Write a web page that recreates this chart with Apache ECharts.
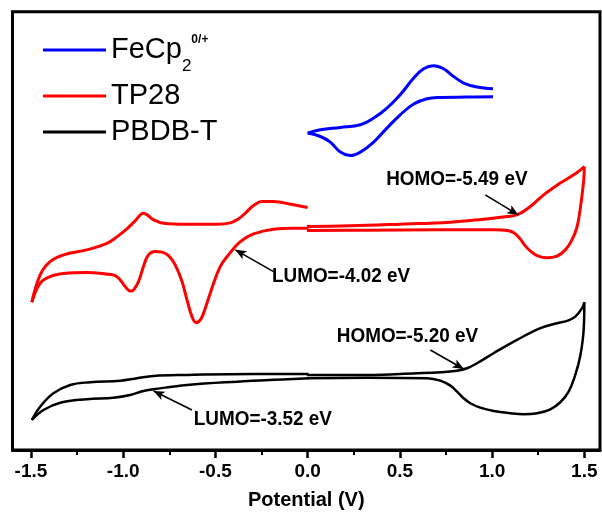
<!DOCTYPE html>
<html>
<head>
<meta charset="utf-8">
<script src="https://cdn.jsdelivr.net/npm/echarts@6/dist/echarts.min.js"></script>
<style>
html,body{margin:0;padding:0;background:#fff;}
#chart{width:602px;height:519px;}
</style>
</head>
<body>
<div id="chart"></div>
<script>
// ---- data (x: potential in V, y: current in arbitrary units) ----
const fecpUpper = [[0.000,316.7],[0.069,320],[0.177,322.3],[0.286,325],[0.358,331.7],[0.430,341.7],[0.502,355],[0.575,371.7],[0.629,381],[0.683,384],[0.737,381],[0.791,373.3],[0.846,366.7],[0.918,362.7],[1.005,361]];
const fecpLower = [[0.000,316.7],[0.069,313.3],[0.123,307.7],[0.177,297.7],[0.231,294.3],[0.286,297.7],[0.358,307.7],[0.430,321.7],[0.502,335],[0.575,345.7],[0.647,351],[0.719,352.3],[0.864,352.7],[1.005,353]];

const tp28NegUpper = [[0.000,242.3],[-0.076,245],[-0.185,248.3],[-0.248,248.3],[-0.293,244.3],[-0.329,238.3],[-0.374,231],[-0.419,227],[-0.492,225.7],[-0.654,225.7],[-0.781,226.7],[-0.835,230],[-0.890,236.5],[-0.935,229],[-0.980,221],[-1.034,213],[-1.088,206.5],[-1.197,200],[-1.323,195],[-1.396,188.3],[-1.450,175],[-1.495,147.7]];
const tp28NegLower = [[-1.495,147.7],[-1.450,166.7],[-1.396,173.3],[-1.323,176.3],[-1.197,177.3],[-1.088,175.7],[-1.043,174.3],[-1.016,170],[-0.989,163.3],[-0.962,159],[-0.944,160],[-0.917,168.3],[-0.890,183.3],[-0.863,195],[-0.826,198.3],[-0.790,197.7],[-0.754,194.3],[-0.718,185],[-0.681,168.3],[-0.654,150],[-0.627,133.3],[-0.604,127.3],[-0.578,131],[-0.555,141.7],[-0.519,161.7],[-0.474,183.3],[-0.429,195],[-0.365,208.3],[-0.293,216],[-0.185,220.7],[-0.076,221.7],[0.005,221.7]];
const tp28PosUpper = [[-0.004,223.3],[0.231,224],[0.502,225.7],[0.774,227.7],[0.954,230.7],[1.081,233.3],[1.144,235.7],[1.207,243.3],[1.280,255],[1.370,266.7],[1.461,277.3],[1.500,283.3]];
const tp28PosLower = [[1.500,283.3],[1.497,270],[1.482,246.7],[1.461,223.3],[1.433,210],[1.397,200],[1.352,193.7],[1.298,192],[1.247,194],[1.211,198.3],[1.180,204],[1.153,210.7],[1.126,216],[1.090,219],[1.008,220],[0.683,220],[0.322,219.7],[-0.004,219.3]];

const pbdbNegUpper = [[0.005,76],[-0.293,76],[-0.654,75],[-0.835,74],[-0.925,71.7],[-1.016,69.3],[-1.179,67.7],[-1.287,65],[-1.378,56.7],[-1.450,43.3],[-1.495,30]];
const pbdbNegLower = [[-1.495,30],[-1.432,40],[-1.341,47.3],[-1.197,50.7],[-1.052,52.3],[-0.962,55],[-0.890,59],[-0.835,60.7],[-0.654,65],[-0.383,68.3],[-0.112,70.7],[0.005,71.7]];
const pbdbPosUpper = [[-0.004,75],[0.322,75],[0.593,76.7],[0.719,77.7],[0.810,79.3],[0.864,81.7],[0.918,86.7],[1.008,96.7],[1.135,110],[1.262,121.7],[1.352,126.7],[1.406,129],[1.451,133.3],[1.488,141.7],[1.500,147.7]];
const pbdbPosLower = [[1.500,147.7],[1.497,121.7],[1.479,95],[1.451,75],[1.415,58.3],[1.370,47.7],[1.316,40.7],[1.244,36.7],[1.171,35.7],[1.099,36.7],[1.008,39],[0.936,42.3],[0.882,46.7],[0.846,51.7],[0.810,58.3],[0.774,64.3],[0.719,69.3],[0.647,71.7],[0.322,72.3],[-0.004,71.7]];

const xTickValues = [-1.5,-1.0,-0.5,0,0.5,1.0,1.5];
const xMinorTickValues = [-1.25,-0.75,-0.25,0.25,0.75,1.25];

const annoText = ['HOMO=-5.49 eV','LUMO=-4.02 eV','HOMO=-5.20 eV','LUMO=-3.52 eV'];
const annoTextPos = [[0.809,270.8],[0.181,173.3],[0.541,113.3],[-0.243,30.8]];
const annoArrowFrom = [[0.963,255],[-0.185,178.3],[0.665,100],[-0.627,40]];
const annoArrowTo = [[1.142,235],[-0.392,200],[0.846,81],[-0.835,59]];

// ---- chart ----
const FONT = '"Liberation Sans", Arial, sans-serif';
const chart = echarts.init(document.getElementById('chart'), null, {renderer:'canvas'});

function seg(name, data, color, width){
  return {name:name, type:'line', data:data, smooth:0.4, symbol:'none', showSymbol:false,
    lineStyle:{color:color, width:width}, itemStyle:{color:color}, silent:true, z:3};
}

const series = [
  seg('FeCp2', fecpUpper, '#0000FF', 3),
  seg('FeCp2', fecpLower, '#0000FF', 3),
  seg('TP28', tp28NegUpper, '#FF0000', 3),
  seg('TP28', tp28NegLower, '#FF0000', 3),
  seg('TP28', tp28PosUpper, '#FF0000', 3),
  seg('TP28', tp28PosLower, '#FF0000', 3),
  seg('PBDB-T', pbdbNegUpper, '#000000', 2.5),
  seg('PBDB-T', pbdbNegLower, '#000000', 2.5),
  seg('PBDB-T', pbdbPosUpper, '#000000', 2.5),
  seg('PBDB-T', pbdbPosLower, '#000000', 2.5),
  {name:'arrows', type:'line', data:[], symbol:'none', silent:true,
   markLine:{silent:true, symbol:['none','arrow'], symbolSize:[7,11], animation:false,
     label:{show:false}, lineStyle:{color:'#000', width:1.6, type:'solid'},
     emphasis:{disabled:true},
     data: annoArrowFrom.map((f,i)=>[{coord:f},{coord:annoArrowTo[i]}])}}
];

const legendBase = {orient:'vertical', icon:'rect', itemWidth:63, itemHeight:3, selectedMode:false, padding:0,
  textStyle:{fontSize:29, fontFamily:FONT, color:'#000', lineHeight:30}};

const option = {
  animation:false,
  backgroundColor:'#fff',
  grid:{left:12.5, top:11.7, right:2, bottom:69, show:true, borderColor:'#000', borderWidth:3},
  legend:[
    Object.assign({}, legendBase, {data:['FeCp2'], left:43, top:25.5,
      formatter:()=> '{a|FeCp}{b|2}{c|0/+}',
      textStyle:{fontFamily:FONT, color:'#000', rich:{
        a:{fontSize:29, lineHeight:49, fontFamily:FONT, color:'#000'},
        b:{fontSize:17, lineHeight:17, verticalAlign:'bottom', fontFamily:FONT, color:'#000'},
        c:{fontSize:12, fontWeight:'bold', lineHeight:12, verticalAlign:'top', padding:[8,0,0,0], fontFamily:FONT, color:'#000'}
      }}}),
    Object.assign({}, legendBase, {data:['TP28'], left:43, top:81}),
    Object.assign({}, legendBase, {data:['PBDB-T'], left:43, top:117})
  ],
  xAxis:[
    {type:'value', min:-1.6, max:1.585, position:'bottom',
     axisLine:{show:true, onZero:false, lineStyle:{color:'#000', width:3}},
     axisTick:{show:true, customValues:xTickValues, length:8, inside:false, lineStyle:{color:'#000', width:2.5}},
     axisLabel:{customValues:xTickValues, formatter:v=>Number(v).toFixed(1), fontSize:19, fontWeight:'bold',
       color:'#000', margin:12, fontFamily:FONT},
     splitLine:{show:false},
     name:'Potential (V)', nameLocation:'middle', nameGap:40,
     nameTextStyle:{fontSize:20, fontWeight:'bold', color:'#000', fontFamily:FONT}},
    {type:'value', min:-1.6, max:1.585, position:'bottom', gridIndex:0,
     axisLine:{show:false, onZero:false},
     axisTick:{show:true, customValues:xMinorTickValues, length:5, inside:false, lineStyle:{color:'#000', width:2}},
     axisLabel:{show:false}, splitLine:{show:false}}
  ],
  yAxis:{type:'value', min:0, max:438, show:false, splitLine:{show:false}},
  series:series
};
chart.setOption(option);

const graphics = annoText.map((t,i)=>{
  const p = chart.convertToPixel({gridIndex:0}, annoTextPos[i]);
  return {type:'text', x:p[0], y:p[1], scaleX:0.9, z:100, silent:true,
    style:{text:t, font:'bold 21px ' + FONT, fill:'#000', align:'center', verticalAlign:'middle'}};
});
chart.setOption({graphic:graphics});
</script>
</body>
</html>
